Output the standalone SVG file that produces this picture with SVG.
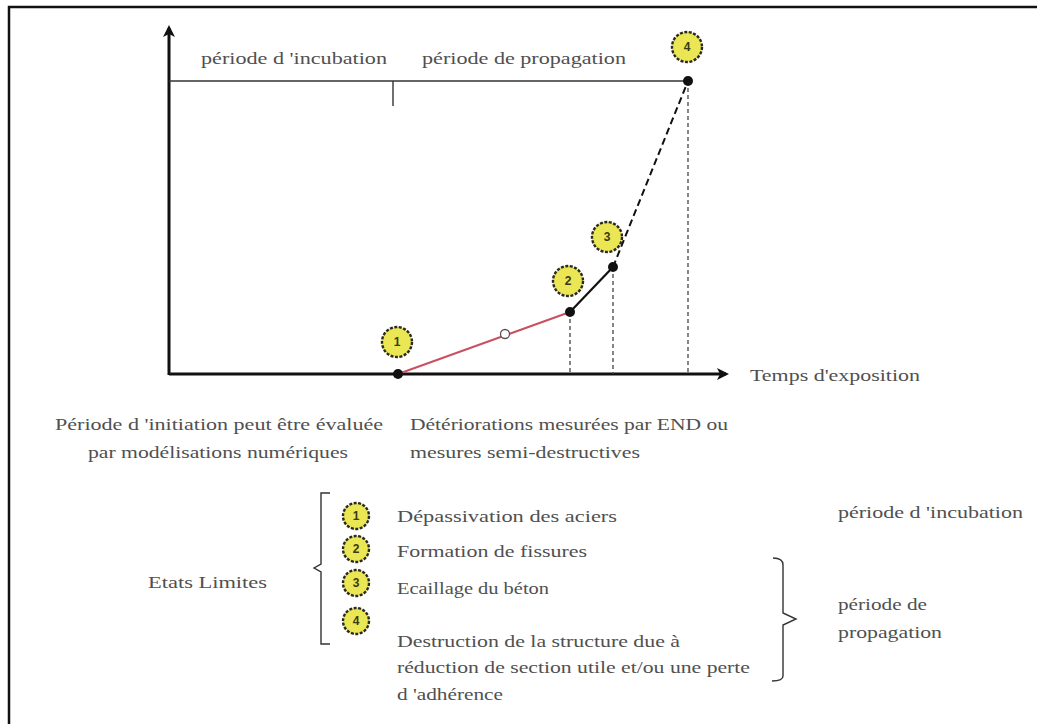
<svg xmlns="http://www.w3.org/2000/svg" width="1037" height="724" viewBox="0 0 1037 724">
<style>
text{font-family:"Liberation Serif","Times New Roman",serif;font-size:16px;fill:#505050}
.badge circle{fill:#ebe653;stroke:#2a2a20;stroke-width:2.4;stroke-dasharray:3 1.5}
.badge text{font-family:"Liberation Sans",Arial,sans-serif;font-size:12px;font-weight:bold;fill:#3a3a10;text-anchor:middle}
.ax{stroke:#111;stroke-width:3;fill:none}
.thin{stroke:#333;stroke-width:1.4;fill:none}
.dot{stroke:#444;stroke-width:1.3;stroke-dasharray:4 3;fill:none}
</style>
<defs>
<marker id="ah" markerWidth="12" markerHeight="12" refX="9" refY="6" orient="auto" markerUnits="userSpaceOnUse" viewBox="0 0 12 12">
<path d="M0,0 L12,6 L0,12 L3,6 Z" fill="#111"/>
</marker>
</defs>
<rect width="1037" height="724" fill="#fff"/>
<path d="M9,724 V7 H1037" fill="none" stroke="#111" stroke-width="2.5"/>
<g id="connectors">
<line class="ax" x1="169" y1="375" x2="169" y2="28" marker-end="url(#ah)"/>
<line class="ax" x1="169" y1="374" x2="726" y2="374" marker-end="url(#ah)"/>
<line class="thin" x1="169" y1="81" x2="688" y2="81"/>
<line class="thin" x1="393" y1="81" x2="393" y2="106"/>
<line class="dot" x1="570" y1="312" x2="570" y2="374"/>
<line class="dot" x1="613" y1="267" x2="613" y2="374"/>
<line class="dot" x1="688" y1="81" x2="688" y2="374" stroke-dasharray="2 3" stroke="#999"/>
<line x1="398" y1="374" x2="570" y2="312" stroke="#c85060" stroke-width="2"/>
<line x1="570" y1="312" x2="613" y2="267" stroke="#111" stroke-width="2.2"/>
<line x1="613" y1="267" x2="688" y2="81" stroke="#111" stroke-width="2" stroke-dasharray="7 4"/>
<path d="M330,493 H321 V564 L314,568 L321,572 V644 H330" class="thin" stroke-width="1.8"/>
<path d="M773,558 Q783,558 783,565 V613 L796,619 L783,625 V676 Q783,681 772,681" class="thin" stroke-width="1.8"/>
</g>
<g id="points">
<circle cx="398" cy="374" r="5" fill="#111"/>
<circle cx="505" cy="334" r="4.5" fill="#fff" stroke="#555" stroke-width="1.3"/>
<circle cx="570" cy="312" r="5" fill="#111"/>
<circle cx="613" cy="267" r="5" fill="#111"/>
<circle cx="688" cy="81" r="5" fill="#111"/>
</g>
<g id="badge-1" class="badge"><circle cx="397" cy="342" r="15"/><text x="397" y="346">1</text></g>
<g id="badge-2" class="badge"><circle cx="568" cy="281" r="15"/><text x="568" y="285">2</text></g>
<g id="badge-3" class="badge"><circle cx="607" cy="237" r="15"/><text x="607" y="241">3</text></g>
<g id="badge-4" class="badge"><circle cx="687" cy="47" r="15"/><text x="687" y="51">4</text></g>
<g id="labels-top">
<text x="201" y="64" textLength="186" lengthAdjust="spacingAndGlyphs">période d 'incubation</text>
<text x="422" y="64" textLength="204" lengthAdjust="spacingAndGlyphs">période de propagation</text>
<text x="750" y="381" textLength="170" lengthAdjust="spacingAndGlyphs">Temps d'exposition</text>
</g>
<g id="notes">
<text x="55" y="430" textLength="328" lengthAdjust="spacingAndGlyphs">Période d 'initiation peut être évaluée</text>
<text x="88" y="458" textLength="260" lengthAdjust="spacingAndGlyphs">par modélisations numériques</text>
<text x="410" y="430" textLength="318" lengthAdjust="spacingAndGlyphs">Détériorations mesurées par END ou</text>
<text x="410" y="458" textLength="230" lengthAdjust="spacingAndGlyphs">mesures semi-destructives</text>
</g>
<g id="legend">
<text x="148" y="588" textLength="119" lengthAdjust="spacingAndGlyphs">Etats Limites</text>
<g class="badge"><circle cx="356" cy="516" r="13"/><text x="356" y="520">1</text></g>
<g class="badge"><circle cx="356" cy="549" r="13"/><text x="356" y="553">2</text></g>
<g class="badge"><circle cx="356" cy="583" r="13"/><text x="356" y="587">3</text></g>
<g class="badge"><circle cx="356" cy="621" r="13"/><text x="356" y="625">4</text></g>
<text x="397" y="522" textLength="220" lengthAdjust="spacingAndGlyphs">Dépassivation des aciers</text>
<text x="397" y="557" textLength="190" lengthAdjust="spacingAndGlyphs">Formation de fissures</text>
<text x="397" y="594" textLength="152" lengthAdjust="spacingAndGlyphs">Ecaillage du béton</text>
<text x="397" y="647" textLength="283" lengthAdjust="spacingAndGlyphs">Destruction de la structure due à</text>
<text x="397" y="673" textLength="353" lengthAdjust="spacingAndGlyphs">réduction de section utile et/ou une perte</text>
<text x="397" y="700" textLength="106" lengthAdjust="spacingAndGlyphs">d 'adhérence</text>
<text x="838" y="518" textLength="185" lengthAdjust="spacingAndGlyphs">période d 'incubation</text>
<text x="838" y="610" textLength="89" lengthAdjust="spacingAndGlyphs">période de</text>
<text x="838" y="638" textLength="104" lengthAdjust="spacingAndGlyphs">propagation</text>
</g>
</svg>
